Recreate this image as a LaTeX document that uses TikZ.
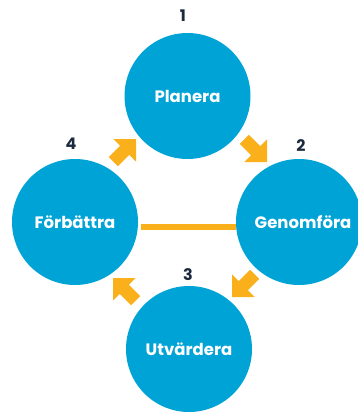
\documentclass[tikz,border=0pt]{standalone}
\usepackage{fontspec}
\setmainfont{Poppins}
\usetikzlibrary{calc}
\definecolor{cblue}{HTML}{00A3D6}
\definecolor{corange}{HTML}{F9B01B}
\definecolor{cnavy}{HTML}{1C2A3E}
\begin{document}
\begin{tikzpicture}[x=1pt,y=-1pt,
  stage/.style={circle,fill=cblue,minimum size=126pt,inner sep=0pt,text=white,font=\fontsize{16.5}{19}\selectfont\bfseries},
  num/.style={text=cnavy,inner sep=0pt,font=\fontsize{16}{19}\selectfont\bfseries},
  link/.style={draw=corange,line width=6pt},
  blockarrow/.style={fill=corange}]
\useasboundingbox (0,0) rectangle (358,412);
\node[stage] (plan) at (187.5,96) {Planera};
\node[stage] (forb) at (75,222) {Förbättra};
\node[stage] (gen) at (299,222) {\hspace*{8pt}Genomföra};
\node[stage] (utv) at (189,349) {Utvärdera};
\node[num] (n1) at (183,15.5) {1};
\node[num] (n2) at (301,146) {2};
\node[num] (n3) at (188,275) {3};
\node[num] (n4) at (71,144) {4};
\draw[link] ([xshift=3pt,yshift=-5pt]forb.east) -- ([yshift=-5pt]gen.west);
\foreach \tx/\ty/\ang in {136/139/45, 267/162/-45, 232/297/-135, 113/278/135}{
  \fill[blockarrow,shift={(\tx,\ty)},rotate=\ang]
    (0,0) -- (-16,-16) -- (-16,-6.5) -- (-32,-6.5) -- (-32,6.5) -- (-16,6.5) -- (-16,16) -- cycle;
}
\end{tikzpicture}
\end{document}
